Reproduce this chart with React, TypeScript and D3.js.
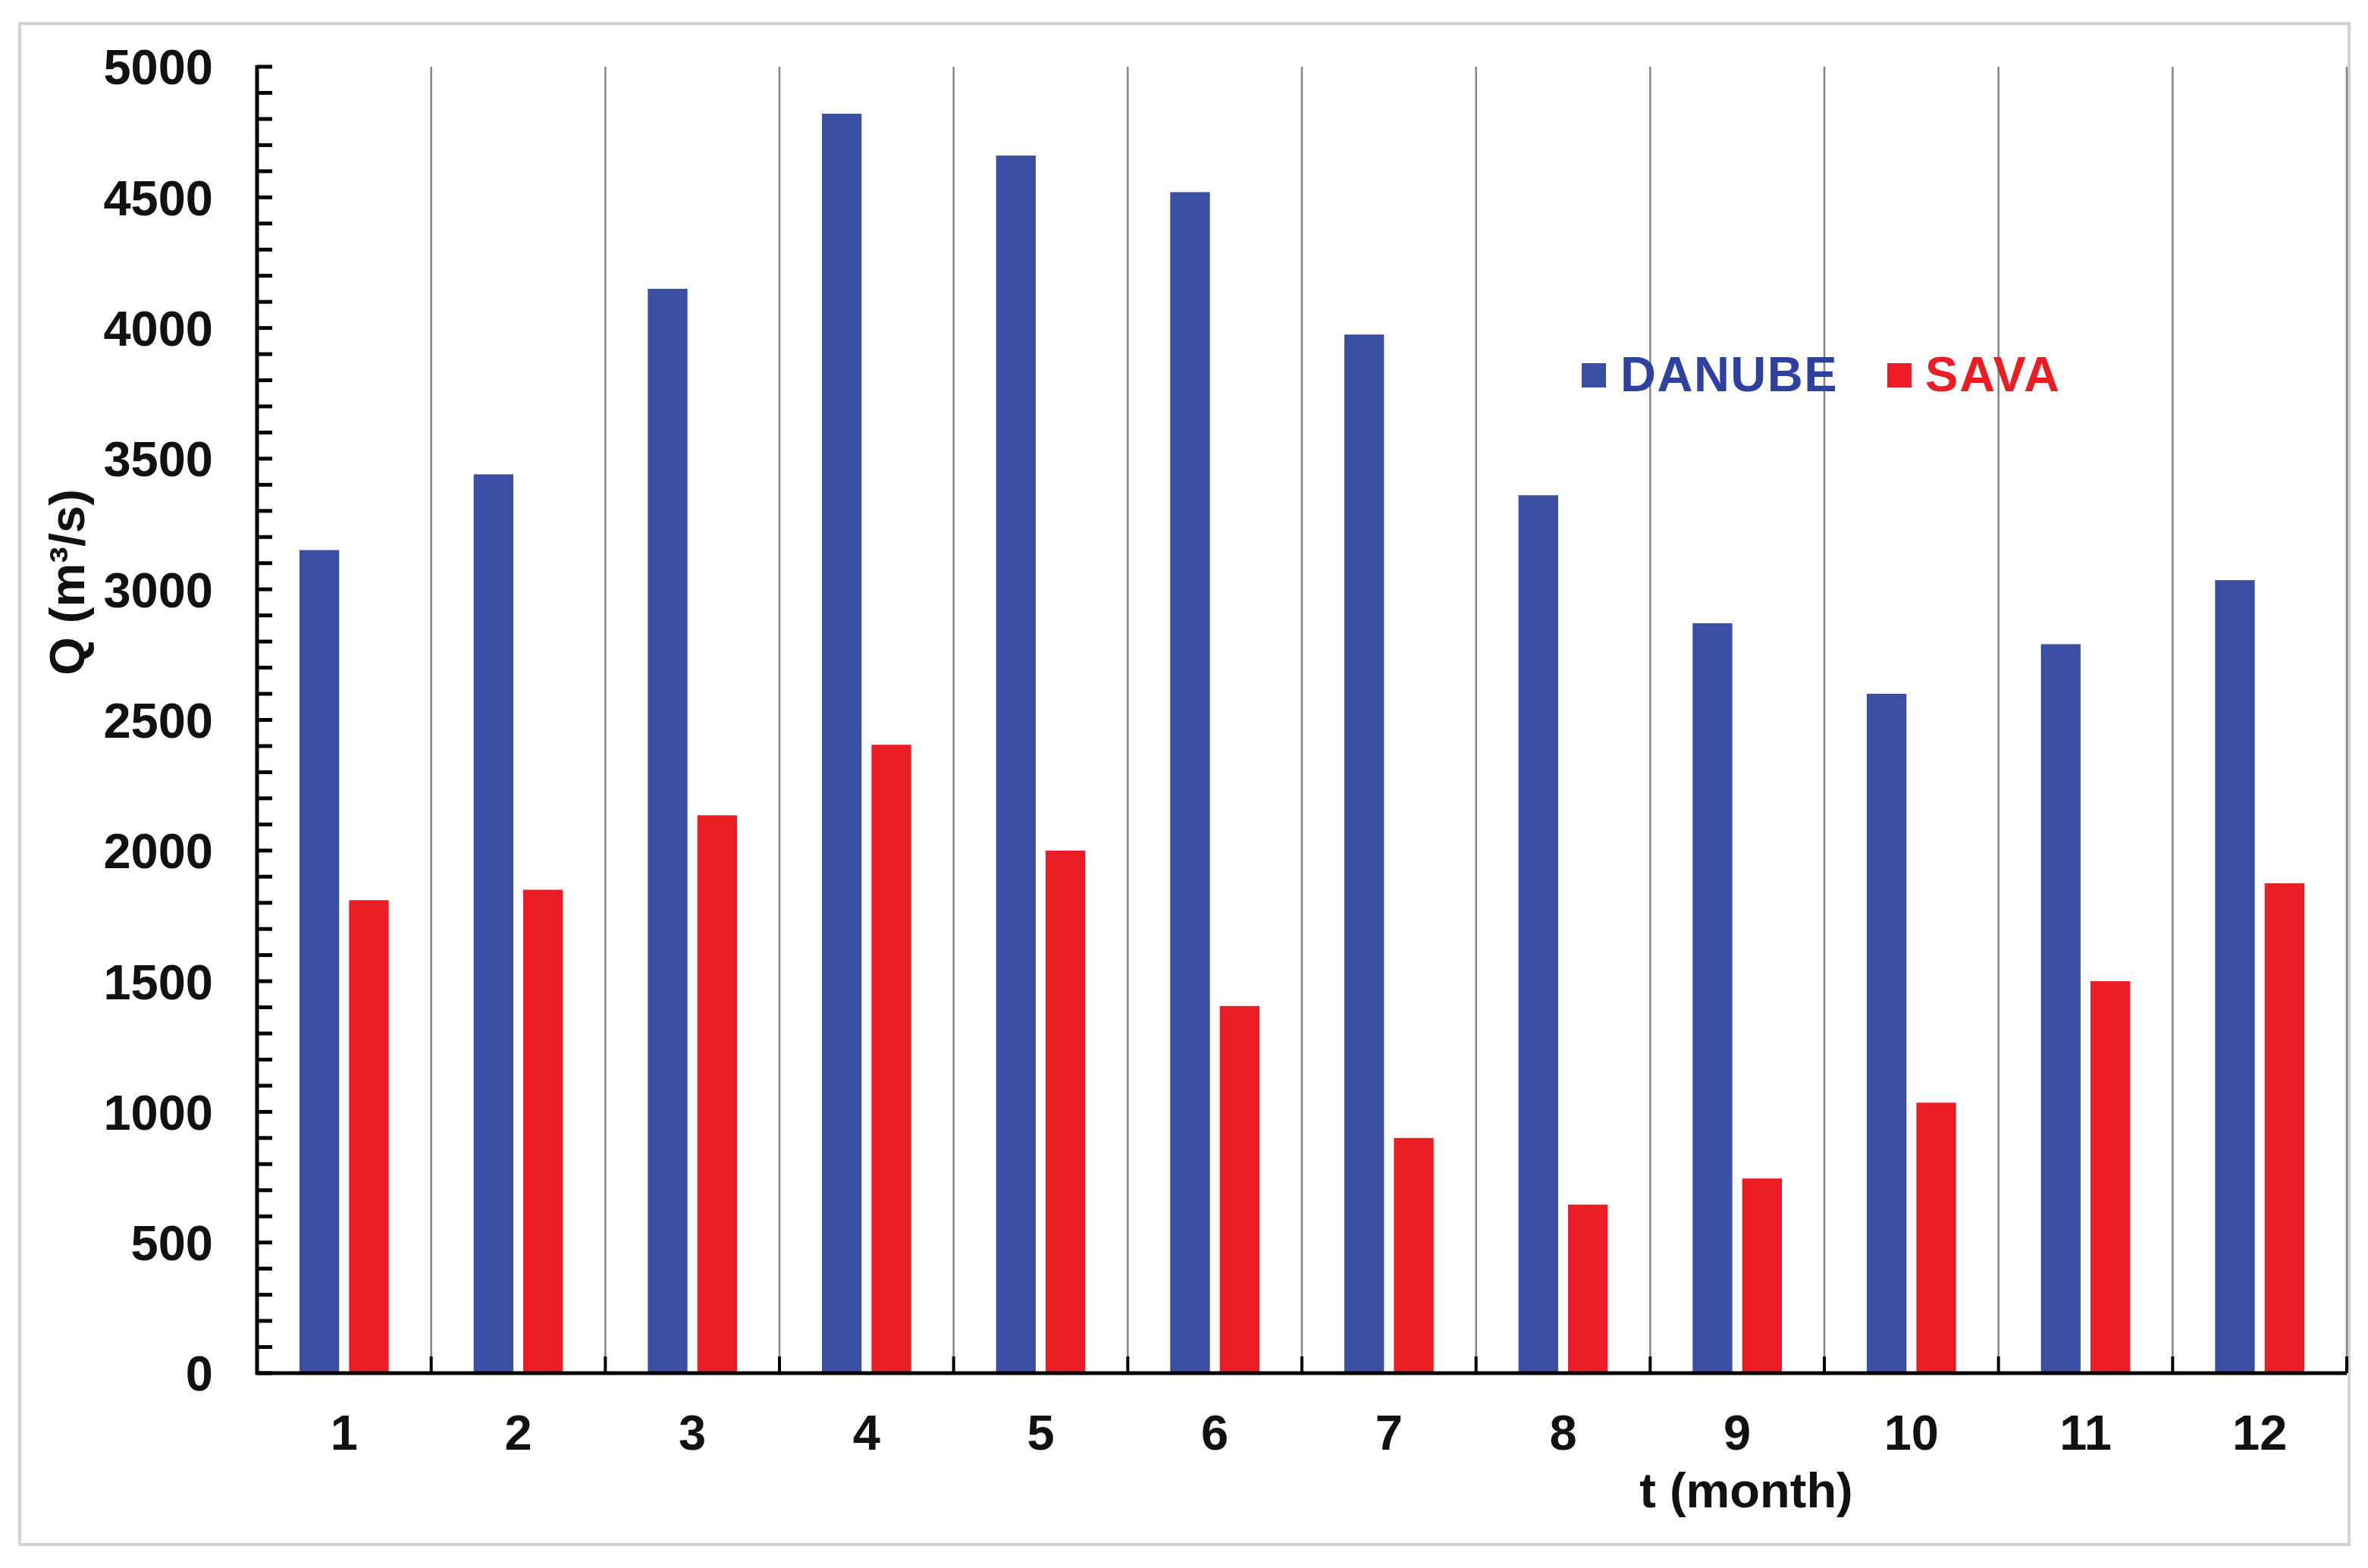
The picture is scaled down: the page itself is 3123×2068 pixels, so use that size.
import { useEffect } from "react";
import * as d3 from "d3";

const months = ["1", "2", "3", "4", "5", "6", "7", "8", "9", "10", "11", "12"];
const seriesNames = ["DANUBE", "SAVA"];
const danube = [3150, 3440, 4150, 4820, 4660, 4520, 3975, 3360, 2870, 2600, 2790, 3035];
const sava = [1810, 1850, 2135, 2405, 2000, 1405, 900, 645, 745, 1035, 1500, 1875];
const yMajorTicks = d3.range(0, 5001, 500);
const yMinorTicks = d3.range(0, 5001, 100);

const W = 3123;
const H = 2068;
const FONT = "'Liberation Sans', Arial, Helvetica, sans-serif";
const FS = 65;
const BLUE = "#3a4ea3";
const RED = "#ec1c24";
const LEGEND_BLUE = "#2f41a0";

export default function App() {
  useEffect(() => {
    document.body.style.margin = "0";
  }, []);

  const margin = { left: 339, right: 28, top: 88, bottom: 257 };
  const x0 = d3
    .scaleBand<string>()
    .domain(months)
    .range([margin.left, W - margin.right]);
  const x1 = d3
    .scaleBand<string>()
    .domain(seriesNames)
    .range([56, x0.bandwidth() - 56])
    .paddingInner(0.2);
  const y = d3
    .scaleLinear()
    .domain([0, 5000])
    .range([H - margin.bottom, margin.top]);

  const values: Record<string, number[]> = { DANUBE: danube, SAVA: sava };
  const colors: Record<string, string> = { DANUBE: BLUE, SAVA: RED };
  const baseY = y(0);
  const boundaries = months.map((m) => (x0(m) as number) + x0.bandwidth());

  return (
    <svg width={W} height={H} style={{ display: "block", background: "#fff" }}>
      <rect x={0} y={0} width={W} height={H} fill="#fff" />
      {/* outer frame */}
      <rect x={26} y={31} width={3072} height={2006} fill="none" stroke="#d2d2d2" strokeWidth={4} />

      {/* vertical gridlines at month boundaries */}
      {boundaries.map((bx, i) => (
        <line key={"g" + i} x1={bx} x2={bx} y1={y(5000)} y2={baseY} stroke="#858585" strokeWidth={2.5} />
      ))}

      {/* bars */}
      {months.map((m, i) => (
        <g key={"b" + m} transform={`translate(${x0(m)},0)`}>
          {seriesNames.map((s) => (
            <rect
              key={s}
              x={x1(s)}
              y={y(values[s][i])}
              width={x1.bandwidth()}
              height={baseY - y(values[s][i])}
              fill={colors[s]}
            />
          ))}
        </g>
      ))}

      {/* y axis */}
      <line x1={margin.left} x2={margin.left} y1={y(5000) - 2} y2={baseY + 2} stroke="#000" strokeWidth={5} />
      {yMinorTicks.map((t) => (
        <line key={"m" + t} x1={margin.left} x2={margin.left + 20} y1={y(t)} y2={y(t)} stroke="#000" strokeWidth={5} />
      ))}
      {yMajorTicks.map((t) => (
        <text
          key={"yl" + t}
          x={margin.left - 58}
          y={y(t)}
          dy="0.36em"
          textAnchor="end"
          fontFamily={FONT}
          fontWeight="bold"
          fontSize={FS}
          fill="#111"
        >
          {t}
        </text>
      ))}

      {/* x axis */}
      <line x1={margin.left - 2} x2={W - margin.right} y1={baseY} y2={baseY} stroke="#000" strokeWidth={5} />
      {boundaries.map((bx, i) => (
        <line key={"xt" + i} x1={bx} x2={bx} y1={baseY} y2={baseY - 22} stroke="#000" strokeWidth={4} />
      ))}
      {months.map((m) => (
        <text
          key={"xl" + m}
          x={(x0(m) as number) + x0.bandwidth() / 2}
          y={1912}
          textAnchor="middle"
          fontFamily={FONT}
          fontWeight="bold"
          fontSize={FS}
          fill="#111"
        >
          {m}
        </text>
      ))}

      {/* axis titles */}
      <text
        x={2303}
        y={1988}
        textAnchor="middle"
        fontFamily={FONT}
        fontWeight="bold"
        fontSize={FS}
        fill="#111"
      >
        t (month)
      </text>
      <text
        transform={`translate(111,768) rotate(-90)`}
        textAnchor="middle"
        fontFamily={FONT}
        fontWeight="bold"
        fontSize={FS}
        fill="#111"
      >
        Q (m³/s)
      </text>

      {/* legend */}
      <rect x={2086} y={479} width={32} height={32} fill={BLUE} />
      <text x={2137} y={516} fontFamily={FONT} fontWeight="bold" fontSize={FS} fill={LEGEND_BLUE} letterSpacing={1.5}>
        DANUBE
      </text>
      <rect x={2489} y={479} width={32} height={32} fill={RED} />
      <text x={2539} y={516} fontFamily={FONT} fontWeight="bold" fontSize={FS} fill={RED} letterSpacing={2}>
        SAVA
      </text>
    </svg>
  );
}
